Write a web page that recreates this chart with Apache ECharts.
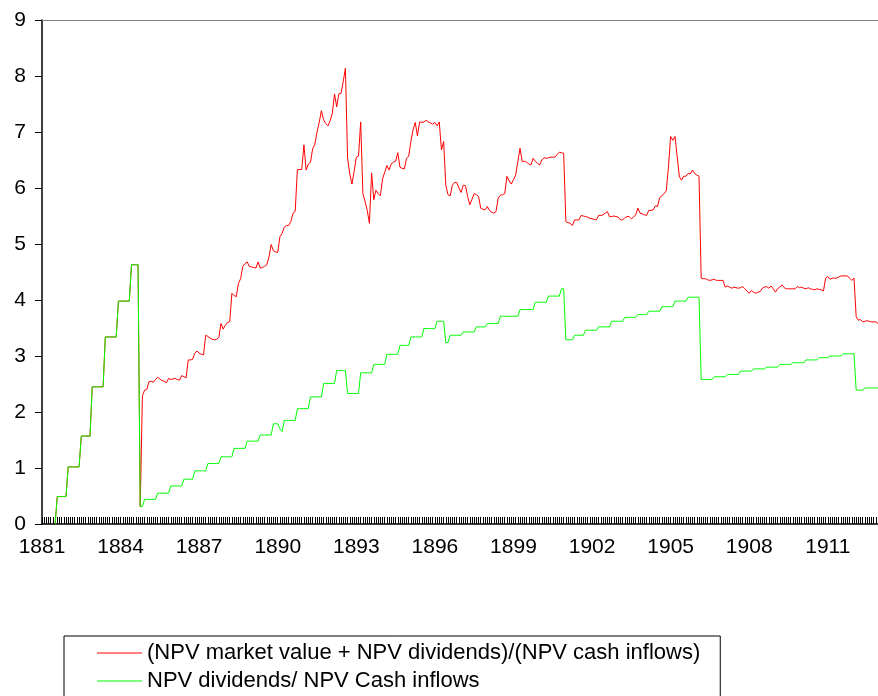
<!DOCTYPE html>
<html>
<head>
<meta charset="utf-8">
<script src="https://cdn.jsdelivr.net/npm/echarts@6/dist/echarts.min.js"></script>
<style>html,body{margin:0;padding:0;background:#fff}#chart{width:878px;height:696px}</style>
</head>
<body>
<div id="chart"></div>
<script>
// ---- data (monthly, Jan 1881 .. Dec 1912) ----
const years = [1881,1882,1883,1884,1885,1886,1887,1888,1889,1890,1891,1892,1893,1894,1895,1896,
               1897,1898,1899,1900,1901,1902,1903,1904,1905,1906,1907,1908,1909,1910,1911,1912];
const months = ['01','02','03','04','05','06','07','08','09','10','11','12'];
const categories = [];
years.forEach(y => months.forEach(m => categories.push(y + '-' + m)));

const seriesNames = ['(NPV market value + NPV dividends)/(NPV cash inflows)', 'NPV dividends/ NPV Cash inflows'];

const marketRatio = [
  null,null,null,null,null,null,0,0.49,0.49,0.49,0.49,0.49,                 // 1881
  1.02,1.02,1.02,1.02,1.02,1.02,1.57,1.57,1.57,1.57,1.57,2.45,              // 1882
  2.45,2.45,2.45,2.45,2.45,3.34,3.34,3.34,3.34,3.34,3.34,3.98,              // 1883
  3.98,3.98,3.98,3.98,3.98,4.63,4.63,4.63,4.63,0.31,2.29,2.39,              // 1884
  2.40,2.54,2.55,2.53,2.58,2.62,2.59,2.56,2.55,2.52,2.60,2.58,              // 1885
  2.59,2.60,2.58,2.57,2.65,2.63,2.61,2.93,2.93,2.94,3.05,3.09,              // 1886
  3.05,3.03,3.02,3.37,3.35,3.32,3.30,3.29,3.30,3.33,3.58,3.48,              // 1887
  3.55,3.60,3.61,4.12,4.08,4.06,4.30,4.38,4.60,4.65,4.68,4.60,              // 1888
  4.59,4.58,4.57,4.68,4.57,4.58,4.60,4.63,4.77,4.99,4.88,4.86,              // 1889
  4.85,5.13,5.19,5.30,5.33,5.33,5.40,5.55,5.58,6.33,6.33,6.33,              // 1890
  6.77,6.32,6.43,6.46,6.70,6.78,7.00,7.17,7.38,7.22,7.15,7.11,              // 1891
  7.20,7.33,7.68,7.45,7.68,7.69,7.90,8.14,6.53,6.25,6.07,6.30,              // 1892
  6.55,6.57,7.18,5.90,5.76,5.60,5.37,6.27,5.79,5.96,5.90,5.86,              // 1893
  6.16,6.28,6.40,6.32,6.43,6.46,6.48,6.63,6.37,6.35,6.34,6.53,              // 1894
  6.57,6.83,7.04,7.17,6.93,7.18,7.17,7.18,7.21,7.18,7.16,7.14,              // 1895
  7.17,7.11,7.18,6.68,6.83,6.05,5.88,5.86,6.05,6.10,6.10,6.00,              // 1896
  5.92,6.05,6.04,5.85,5.70,5.80,5.90,5.88,5.85,5.64,5.62,5.61,              // 1897
  5.67,5.60,5.57,5.55,5.58,5.82,5.87,5.88,5.90,6.21,6.13,6.07,              // 1898
  6.15,6.23,6.47,6.71,6.47,6.48,6.46,6.43,6.41,6.53,6.48,6.44,              // 1899
  6.41,6.50,6.54,6.53,6.54,6.55,6.55,6.55,6.60,6.64,6.63,6.62,              // 1900
  5.40,5.38,5.37,5.33,5.43,5.43,5.43,5.51,5.50,5.49,5.48,5.46,              // 1901
  5.45,5.44,5.43,5.51,5.51,5.52,5.55,5.58,5.49,5.49,5.50,5.49,              // 1902
  5.48,5.43,5.43,5.47,5.49,5.49,5.45,5.48,5.52,5.64,5.55,5.54,              // 1903
  5.52,5.51,5.60,5.60,5.61,5.68,5.67,5.83,5.86,5.90,5.95,6.38,              // 1904
  6.92,6.85,6.92,6.56,6.20,6.14,6.21,6.21,6.26,6.25,6.32,6.26,              // 1905
  6.23,6.21,4.39,4.38,4.38,4.36,4.35,4.36,4.37,4.35,4.35,4.35,              // 1906
  4.35,4.23,4.25,4.23,4.21,4.23,4.22,4.21,4.22,4.24,4.20,4.16,              // 1907
  4.12,4.17,4.14,4.12,4.14,4.15,4.21,4.23,4.24,4.21,4.25,4.20,              // 1908
  4.14,4.20,4.23,4.27,4.22,4.20,4.20,4.20,4.20,4.20,4.24,4.22,              // 1909
  4.23,4.21,4.20,4.22,4.20,4.19,4.18,4.20,4.19,4.18,4.16,4.39,              // 1910
  4.42,4.37,4.39,4.39,4.39,4.41,4.43,4.43,4.43,4.43,4.39,4.35,              // 1911
  4.39,3.70,3.64,3.65,3.61,3.62,3.63,3.62,3.61,3.61,3.61,3.58               // 1912
];

const dividendRatio = [
  null,null,null,null,null,null,0,0.49,0.49,0.49,0.49,0.49,                 // 1881
  1.02,1.02,1.02,1.02,1.02,1.02,1.57,1.57,1.57,1.57,1.57,2.45,              // 1882
  2.45,2.45,2.45,2.45,2.45,3.34,3.34,3.34,3.34,3.34,3.34,3.98,              // 1883
  3.98,3.98,3.98,3.98,3.98,4.63,4.63,4.63,4.63,0.31,0.31,0.44,              // 1884
  0.44,0.44,0.44,0.44,0.44,0.55,0.55,0.55,0.55,0.55,0.55,0.68,              // 1885
  0.68,0.68,0.68,0.68,0.68,0.80,0.80,0.80,0.80,0.80,0.95,0.95,              // 1886
  0.95,0.95,0.95,0.95,1.08,1.08,1.08,1.08,1.08,1.08,1.20,1.20,              // 1887
  1.20,1.20,1.20,1.20,1.35,1.35,1.35,1.35,1.35,1.35,1.48,1.48,              // 1888
  1.48,1.48,1.48,1.48,1.59,1.59,1.59,1.59,1.59,1.59,1.79,1.79,              // 1889
  1.79,1.70,1.65,1.85,1.85,1.85,1.85,1.85,1.85,2.06,2.06,2.06,              // 1890
  2.06,2.06,2.06,2.27,2.27,2.27,2.27,2.27,2.27,2.51,2.51,2.51,              // 1891
  2.51,2.51,2.51,2.74,2.74,2.74,2.74,2.74,2.33,2.33,2.33,2.33,              // 1892
  2.33,2.33,2.70,2.70,2.70,2.70,2.70,2.70,2.85,2.85,2.85,2.85,              // 1893
  2.85,2.85,3.03,3.03,3.03,3.03,3.03,3.03,3.19,3.19,3.19,3.19,              // 1894
  3.19,3.34,3.34,3.34,3.34,3.34,3.34,3.49,3.49,3.49,3.49,3.49,              // 1895
  3.49,3.62,3.62,3.62,3.62,3.24,3.24,3.37,3.37,3.37,3.37,3.37,              // 1896
  3.37,3.43,3.43,3.43,3.43,3.43,3.43,3.52,3.52,3.52,3.52,3.52,              // 1897
  3.58,3.58,3.58,3.58,3.58,3.58,3.71,3.71,3.71,3.71,3.71,3.71,              // 1898
  3.71,3.71,3.71,3.83,3.83,3.83,3.83,3.83,3.83,3.83,3.96,3.96,              // 1899
  3.96,3.96,3.96,3.96,4.07,4.07,4.07,4.07,4.07,4.07,4.20,4.20,              // 1900
  3.29,3.29,3.29,3.29,3.37,3.37,3.37,3.37,3.37,3.46,3.46,3.46,              // 1901
  3.46,3.46,3.46,3.52,3.52,3.52,3.52,3.52,3.52,3.62,3.62,3.62,              // 1902
  3.62,3.62,3.62,3.69,3.69,3.69,3.69,3.69,3.69,3.74,3.74,3.74,              // 1903
  3.74,3.74,3.80,3.80,3.80,3.80,3.80,3.80,3.88,3.88,3.88,3.88,              // 1904
  3.88,3.88,3.98,3.98,3.98,3.98,3.98,3.98,4.05,4.05,4.05,4.05,              // 1905
  4.05,4.05,2.58,2.58,2.58,2.58,2.58,2.58,2.63,2.63,2.63,2.63,              // 1906
  2.63,2.63,2.67,2.67,2.67,2.67,2.67,2.67,2.73,2.73,2.73,2.73,              // 1907
  2.73,2.73,2.77,2.77,2.77,2.77,2.77,2.77,2.80,2.80,2.80,2.80,              // 1908
  2.80,2.80,2.85,2.85,2.85,2.85,2.85,2.85,2.88,2.88,2.88,2.88,              // 1909
  2.88,2.88,2.93,2.93,2.93,2.93,2.93,2.93,2.97,2.97,2.97,2.97,              // 1910
  2.97,3.00,3.00,3.00,3.00,3.00,3.00,3.04,3.04,3.04,3.04,3.04,              // 1911
  3.04,2.39,2.39,2.39,2.39,2.43,2.43,2.43,2.43,2.43,2.43,2.43               // 1912
];

const yMin = 0, yMax = 9, yStep = 1;
const labelEvery = 36; // one label every 3 years

const FONT = 'Liberation Sans, Arial, sans-serif';
const chart = echarts.init(document.getElementById('chart'), null, {renderer: 'canvas'});
chart.setOption({
  animation: false,
  backgroundColor: '#ffffff',
  grid: {left: 42, right: 0, top: 20, bottom: 172, containLabel: false},
  legend: {
    data: seriesNames,
    orient: 'vertical',
    left: 64, top: 636, height: 120,
    icon: 'rect', itemWidth: 45, itemHeight: 1, itemGap: 6,
    borderColor: '#000', borderWidth: 1,
    padding: [6, 20, 8, 33],
    textStyle: {fontFamily: FONT, fontSize: 22, color: '#000'}
  },
  xAxis: [{
    type: 'category', data: categories, boundaryGap: false,
    axisLine: {lineStyle: {color: '#000', width: 1.5}},
    axisTick: {inside: true, length: 7, interval: 0, lineStyle: {color: '#000', width: 1}},
    axisLabel: {interval: labelEvery - 1, formatter: v => v.slice(0, 4), fontFamily: FONT, fontSize: 21, color: '#000', margin: 13},
    splitLine: {show: false}
  }, {
    type: 'category', data: categories, boundaryGap: false, position: 'top',
    axisLine: {lineStyle: {color: '#808080', width: 1}},
    axisTick: {show: false}, axisLabel: {show: false}, splitLine: {show: false}
  }],
  yAxis: {
    type: 'value', min: yMin, max: yMax, interval: yStep,
    axisLine: {show: true, lineStyle: {color: '#000', width: 1.5}},
    axisTick: {show: true, length: 7, lineStyle: {color: '#000', width: 1}},
    axisLabel: {fontFamily: FONT, fontSize: 21, color: '#000', margin: 16},
    splitLine: {show: false}
  },
  series: [{
    name: seriesNames[0], type: 'line', data: marketRatio, showSymbol: false,
    lineStyle: {color: '#ff0000', width: 1}, itemStyle: {color: '#ff0000'}
  }, {
    name: seriesNames[1], type: 'line', data: dividendRatio, showSymbol: false,
    lineStyle: {color: '#00ff00', width: 1}, itemStyle: {color: '#00ff00'}
  }]
});
</script>
</body>
</html>
